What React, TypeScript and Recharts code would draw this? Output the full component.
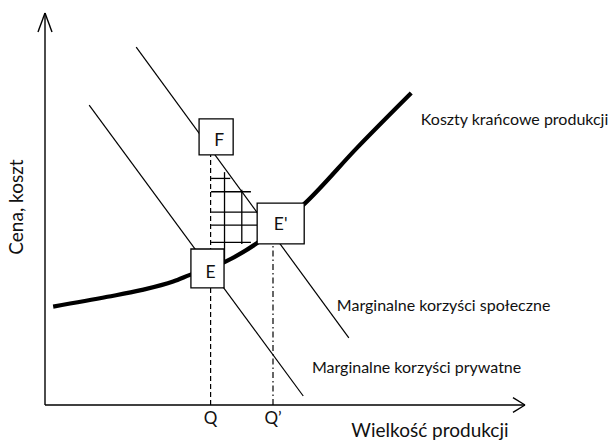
import React from 'react';
import { ComposedChart, Line, XAxis, YAxis, ReferenceLine, ReferenceArea, ReferenceDot } from 'recharts';

const FONT = 'Lato, "Open Sans", sans-serif';
const INK = '#111';

// Marginal cost curve (quantity, cost)
const mcQuantity = [1.7, 13, 20, 26.7, 30.2, 37.5, 44.2, 54.2, 65, 76.3];
const mcCost = [25.1, 27.6, 29.3, 31.5, 33.2, 36.5, 41.3, 51.5, 65.6, 79.6];

// Marginal social benefit line
const socialQuantity = [19.0, 63.3];
const socialBenefit = [91.3, 17.1];

// Marginal private benefit line
const privateQuantity = [9.2, 53.8];
const privateBenefit = [76.5, 2.3];

// Quantities Q and Q'
const quantityTicks = [34.5, 47.5];
const quantityTickLabels = ['Q', 'Q\u2019'];

// Point boxes
const boxNames = ['F', 'E', "E'"];
const boxQ1 = [32.1, 30.4, 44.2];
const boxQ2 = [39.2, 37.3, 54.0];
const boxP1 = [63.8, 29.9, 41.1];
const boxP2 = [73.0, 39.8, 51.5];

// Hatched area (welfare gain)
const hatchRowP = [57.8, 54.4, 49.2, 45.9, 41.5];
const hatchRowQ1 = [34.6, 34.6, 34.6, 34.6, 34.6];
const hatchRowQ2 = [38.6, 42.9, 44.2, 44.2, 42.9];
const hatchColQ = [37.4, 41.0];
const hatchColP1 = [36.5, 41.1];
const hatchColP2 = [59.4, 54.9];

// Curve names
const curveNames = ['Koszty krańcowe produkcji', 'Marginalne korzyści społeczne', 'Marginalne korzyści prywatne'];
const curveNameQ = [78.3, 60.8, 55.6];
const curveNameP = [72.9, 25.5, 9.7];

const axisTitleX = 'Wielkość produkcji';
const axisTitleY = 'Cena, koszt';

const toPoints = (xs: number[], ys: number[]) => xs.map((x, i) => ({ x, y: ys[i] }));

const mcData = toPoints(mcQuantity, mcCost);
const socialData = toPoints(socialQuantity, socialBenefit);
const privateData = toPoints(privateQuantity, privateBenefit);

const textStyle = { fill: INK, fontFamily: FONT, fontSize: 16 };

const boxLabel = (name: string, shift: number) => (p: any) => {
  const vb = p.viewBox || { x: 0, y: 0, width: 0, height: 0 };
  const cx = vb.x + vb.width / 2 + shift;
  const cy = vb.y + vb.height / 2 + shift;
  return (
    <text x={cx} y={cy} dy="0.36em" textAnchor="middle" style={{ ...textStyle, fontSize: 17.5 }} fill={INK}>
      {name}
    </text>
  );
};

export default function App() {
  return (
    <div style={{ position: 'absolute', left: 0, top: 0, background: '#fff' }}>
      <ComposedChart width={616} height={441} margin={{ top: 13, right: 91, bottom: 0, left: 0 }}>
        <XAxis
          type="number"
          dataKey="x"
          domain={[0, 100]}
          height={36}
          ticks={quantityTicks}
          tickFormatter={(v: number) => quantityTickLabels[quantityTicks.indexOf(v)]}
          tickLine={false}
          tick={{ ...textStyle, fontSize: 17 }}
          tickSize={2}
          tickMargin={5}
          axisLine={{ stroke: '#000', strokeWidth: 1.4 }}
          allowDataOverflow
          label={{
            content: (p: any) => {
              const vb = p.viewBox || { x: 45, y: 405, width: 480 };
              return (
                <text x={vb.x + vb.width * 0.802} y={vb.y + 32} textAnchor="middle" style={{ ...textStyle, fontSize: 19 }} fill={INK}>
                  {axisTitleX}
                </text>
              );
            },
          }}
        />
        <YAxis
          type="number"
          dataKey="y"
          domain={[0, 100]}
          width={45}
          tick={false}
          tickLine={false}
          axisLine={{ stroke: '#000', strokeWidth: 1.4 }}
          allowDataOverflow
          label={{
            content: (p: any) => {
              const vb = p.viewBox || { x: 0, y: 13, width: 45, height: 392 };
              const cx = vb.x + vb.width - 22;
              const cy = vb.y + vb.height * 0.495;
              return (
                <text
                  x={cx}
                  y={cy}
                  transform={`rotate(-90, ${cx}, ${cy})`}
                  textAnchor="middle"
                  style={{ ...textStyle, fontSize: 19 }}
                  fill={INK}
                >
                  {axisTitleY}
                </text>
              );
            },
          }}
        />

        {/* axis arrowheads */}
        <ReferenceLine segment={[{ x: -1.46, y: 95.15 }, { x: 0, y: 100 }]} stroke="#000" strokeWidth={1.4} ifOverflow="visible" />
        <ReferenceLine segment={[{ x: 1.46, y: 95.15 }, { x: 0, y: 100 }]} stroke="#000" strokeWidth={1.4} ifOverflow="visible" />
        <ReferenceLine segment={[{ x: 97.5, y: 1.9 }, { x: 100, y: 0 }]} stroke="#000" strokeWidth={1.4} ifOverflow="visible" />
        <ReferenceLine segment={[{ x: 97.5, y: -1.9 }, { x: 100, y: 0 }]} stroke="#000" strokeWidth={1.4} ifOverflow="visible" />

        {/* Q and Q' guides */}
        <ReferenceLine
          segment={[{ x: quantityTicks[0], y: 0 }, { x: quantityTicks[0], y: boxP1[0] }]}
          stroke="#000"
          strokeWidth={1.2}
          strokeDasharray="5 3"
          ifOverflow="visible"
        />
        <ReferenceLine
          segment={[{ x: quantityTicks[1], y: 0 }, { x: quantityTicks[1], y: boxP1[2] }]}
          stroke="#000"
          strokeWidth={1.2}
          strokeDasharray="6 3 1.5 3"
          ifOverflow="visible"
        />

        {/* hatching */}
        {hatchRowP.map((p, i) => (
          <ReferenceLine
            key={'hr' + i}
            segment={[{ x: hatchRowQ1[i], y: p }, { x: hatchRowQ2[i], y: p }]}
            stroke="#000"
            strokeWidth={1.3}
            ifOverflow="visible"
          />
        ))}
        {hatchColQ.map((q, i) => (
          <ReferenceLine
            key={'hc' + i}
            segment={[{ x: q, y: hatchColP1[i] }, { x: q, y: hatchColP2[i] }]}
            stroke="#000"
            strokeWidth={1.3}
            ifOverflow="visible"
          />
        ))}

        <Line data={socialData} dataKey="y" type="linear" stroke="#000" strokeWidth={1.2} dot={false} isAnimationActive={false} />
        <Line data={privateData} dataKey="y" type="linear" stroke="#000" strokeWidth={1.2} dot={false} isAnimationActive={false} />
        <Line data={mcData} dataKey="y" type="monotone" stroke="#000" strokeWidth={4.2} dot={false} isAnimationActive={false} />

        {boxNames.map((name, i) => (
          <ReferenceArea
            key={'b' + i}
            x1={boxQ1[i]}
            x2={boxQ2[i]}
            y1={boxP1[i]}
            y2={boxP2[i]}
            fill="#fff"
            fillOpacity={1}
            stroke="#000"
            strokeWidth={1.3}
            ifOverflow="visible"
            zIndex={1000}
            label={{ content: boxLabel(name, i < 2 ? 3 : 0) }}
          />
        ))}

        {curveNames.map((name, i) => (
          <ReferenceDot
            key={'n' + i}
            x={curveNameQ[i]}
            y={curveNameP[i]}
            r={0}
            stroke="none"
            fill="none"
            ifOverflow="visible"
            label={{ value: name, position: 'right', offset: 0, ...textStyle }}
          />
        ))}
      </ComposedChart>
    </div>
  );
}
